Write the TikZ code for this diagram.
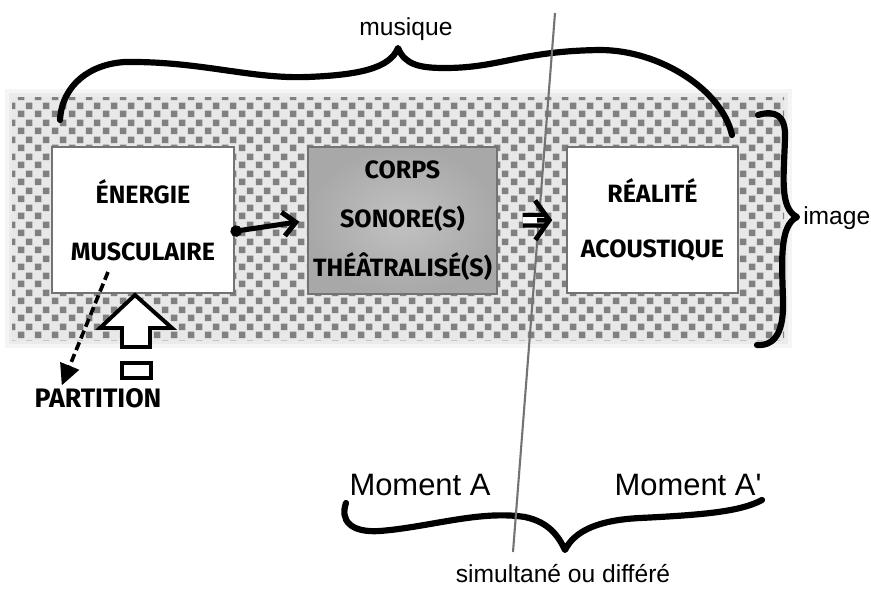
\documentclass[tikz,border=0pt]{standalone}
\usepackage{fontspec}
\setmainfont{Liberation Sans}
\newfontfamily\handfont{Fira Sans}
\usetikzlibrary{arrows.meta,patterns}
\pgfdeclarepatternformonly{halftone}{\pgfpointorigin}{\pgfqpoint{11.8pt}{11.8pt}}{\pgfqpoint{11.8pt}{11.8pt}}{%
	\pgfpathrectangle{\pgfqpoint{0.6pt}{0.6pt}}{\pgfqpoint{4.7pt}{4.7pt}}%
	\pgfpathrectangle{\pgfqpoint{6.5pt}{6.5pt}}{\pgfqpoint{4.7pt}{4.7pt}}%
	\pgfusepath{fill}}
\tikzset{
	box/.style = {rectangle, draw=black!55, line width=1pt, inner sep=0pt, align=center, 
		text=black, fill=white, font=\handfont\bfseries\fontsize{17.8}{40.5}\selectfont},
	box1/.style = {box, minimum width=4.55cm, minimum height=3.65cm},
	box2/.style = {box, minimum width=4.725cm, minimum height=3.675cm, 
		inner color=black!24, outer color=black!34, 
		font=\handfont\bfseries\fontsize{17.8}{35}\selectfont},
	box3/.style = {box, minimum width=4.275cm, minimum height=3.65cm, 
		font=\handfont\bfseries\fontsize{17.8}{39}\selectfont},
	hand/.style = {inner sep=0pt, font=\handfont\bfseries\fontsize{19}{22}\selectfont},
	txt/.style = {inner sep=0pt, font=\fontsize{17.5}{20}\selectfont},
	moment/.style = {inner sep=0pt, font=\fontsize{22}{26}\selectfont},
	brace/.style = {draw=black, line width=4.4pt, line cap=round, line join=round},
	cutline/.style = {draw=black!55, line width=1.5pt},
	hollow/.style = {draw=black, fill=white, line width=2.8pt, line join=miter}
}

\begin{document}
\begin{tikzpicture}[x=0.025cm, y=-0.025cm,
push/.style={line width=3.6pt, {Circle[length=8pt]}-{Straight Barb[length=9pt, width=17pt]}, 
	shorten <=-3pt, shorten >=5.7pt},
implies/.style={line width=3pt, double, double distance=4.5pt, 
	shorten <=17.8pt, shorten >=14pt},
chevron/.style={line width=3.4pt, -{Straight Barb[length=10pt, width=28pt]}, 
	shorten <=28pt, shorten >=10pt},
dashedarrow/.style={line width=2.6pt, dash pattern=on 6pt off 3pt, 
	-{Triangle[length=15pt, width=14pt]}, shorten >=2pt}]
\useasboundingbox (0,0) rectangle (871,588);
%----------------- halftone band --------------
\fill[black!4] (5,89) rectangle (792,348);
\fill[black!8] (9,93) rectangle (788,344);
\fill[black!9] (12,97) rectangle (784,340);
\fill[pattern=halftone, pattern color=black!50] (12,97) rectangle (784,340);
%----------------- boxes --------------
\node (nrg) [box1] at (143,220) {ÉNERGIE\\MUSCULAIRE};
\node (corps) [box2] at (402.5,220.5) {CORPS\\SONORE(S)\\THÉÂTRALISÉ(S)};
\node (real) [box3] at (652.5,220) {RÉALITÉ\\ACOUSTIQUE};
%----------------- braces --------------
\draw[brace] (60,120) .. controls (62,85) and (90,64) .. (125,62)
	.. controls (200,61) and (250,79) .. (307,77)
	.. controls (360,75) and (390,68) .. (398,48)
	.. controls (405,65) and (420,68) .. (445,68)
	.. controls (500,68) and (520,51) .. (600,50)
	.. controls (660,50) and (722,90) .. (732,135);
\draw[brace] (758,115) .. controls (775,110) and (786,115) .. (785,138)
	.. controls (784,175) and (779,208) .. (797,217)
	.. controls (779,226) and (782,262) .. (783,300)
	.. controls (784,332) and (775,346) .. (757,345);
\draw[brace] (346,503) .. controls (340,520) and (350,533) .. (380,531)
	.. controls (430,527) and (480,510) .. (525,517)
	.. controls (548,522) and (558,535) .. (565,550)
	.. controls (575,530) and (600,520) .. (640,518)
	.. controls (700,515) and (740,512) .. (762,500);
%----------------- time line --------------
\coordinate (ltop) at (555,13);
\coordinate (lbot) at (513,552);
\draw[cutline] (ltop) -- (lbot);
%----------------- arrows --------------
\draw[push] (nrg.-7.5) -- (corps.west);
\draw[implies] (corps.east) -- (real.west);
\draw[chevron] (corps.east) -- (real.west);
\node (partition) [hand] at (98,398) {PARTITION};
\coordinate (dash) at (108,272);
\draw[dashedarrow] (dash) -- (partition.165);
\draw[hollow] (135,295) -- (172,328) -- (150,328) -- (150,347) -- (122,347) 
	-- (122,328) -- (100,328) -- cycle;
\draw[hollow] (122,363) rectangle (151,378);
%----------------- labels --------------
\node (musique) [txt, anchor=base] at (406,35) {musique};
\node (image) [txt, anchor=base west] at (803,224) {image};
\node (momA) [moment, anchor=base] at (420,495) {Moment A};
\node (momB) [moment, anchor=base] at (688,495) {Moment A\textquotesingle};
\node (simul) [txt, anchor=base] at (563,582) {simultané ou différé};
\end{tikzpicture}
\end{document}
